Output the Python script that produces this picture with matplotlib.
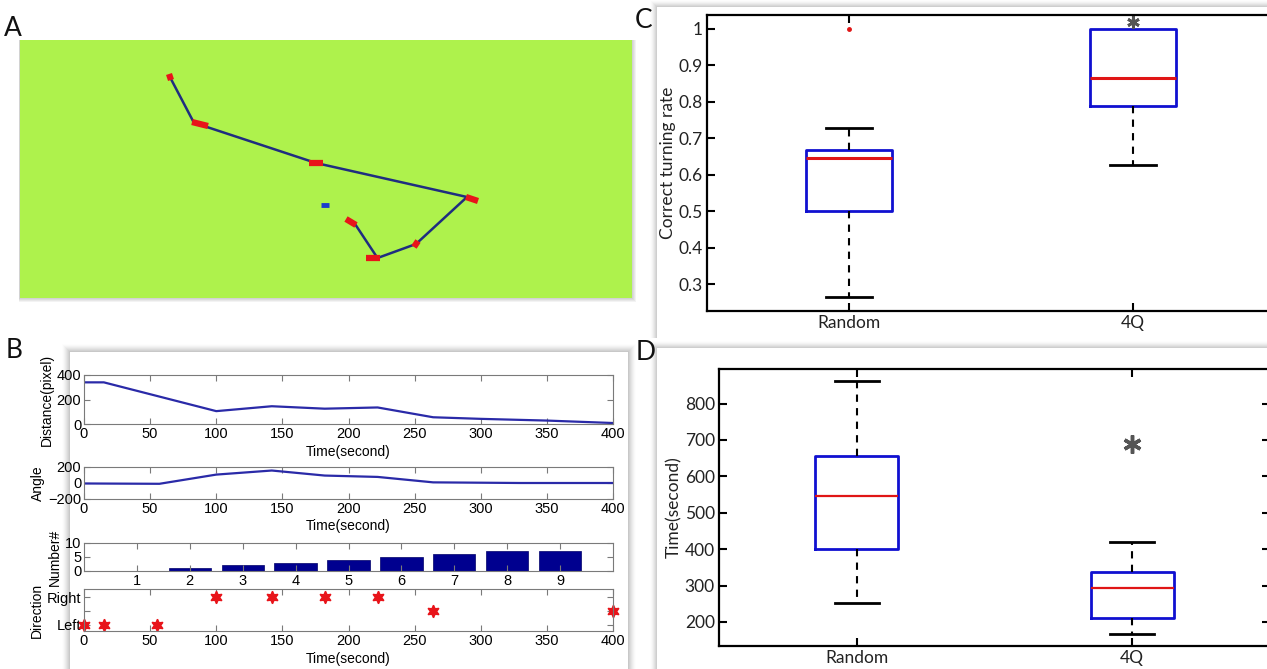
import numpy as np
import matplotlib
matplotlib.use("Agg")
import matplotlib.pyplot as plt
from matplotlib.patches import Rectangle
from matplotlib.markers import MarkerStyle
from matplotlib.transforms import Affine2D

# ---------------- data ----------------
# Panel A: trajectory in arena (pixel) coordinates
path_x = [150.6, 173.9, 296.0, 447.0, 396.0, 357.5, 335.0]
path_y = [38.3, 82.7, 123.0, 157.0, 204.0, 218.0, 184.0]
head_x = [150.0, 180.0, 296.0, 452.0, 396.0, 353.0, 331.0]
head_y = [37.0, 84.0, 123.0, 159.0, 204.0, 218.0, 182.0]
head_angle = [-70, -15, 0, -20, 60, 0, -35]
head_len = [6, 15, 12, 12, 6, 12, 10]
target_x = [305.0]
target_y = [165.0]

# Panel B
dist_t = [0, 15, 100, 142, 182, 222, 264, 300, 350, 400]
dist_v = [340, 340, 105, 145, 125, 135, 55, 42, 28, 8]
ang_t = [0, 57, 100, 142, 182, 222, 264, 330, 400]
ang_v = [-6, -10, 105, 156, 93, 76, 8, 0, 0]
num_idx = [1, 2, 3, 4, 5, 6, 7, 8, 9]
num_v = [0, 1, 2, 3, 4, 5, 6, 7, 7]
dir_t = [0, 15, 55, 100, 142, 182, 222, 264, 400]
dir_v = [-1, -1, -1, 1, 1, 1, 1, 0, 0]

# Panel C: correct turning rate
groups = ["Random", "4Q"]
c_whislo = [0.264, 0.626]
c_q1 = [0.500, 0.789]
c_med = [0.646, 0.866]
c_q3 = [0.667, 1.000]
c_whishi = [0.728, 1.000]
c_fliers = [[1.0], [1.02]]

# Panel D: time
d_whislo = [251, 167]
d_q1 = [400, 211]
d_med = [545, 294]
d_q3 = [656, 337]
d_whishi = [861, 420]
d_fliers = [[], [689]]

# ---------------- figure ----------------
W, H = 1267, 669
fig = plt.figure(figsize=(W / 100, H / 100), dpi=100)
fig.patch.set_facecolor("white")


def px(l, t, r, b):
    return [l / W, 1 - b / H, (r - l) / W, (b - t) / H]


def card(l, t, r, b, shadow=6):
    for i in range(shadow, 0, -1):
        a = 0.11 * (shadow - i + 1) / shadow
        fig.patches.append(Rectangle(((l - i) / W, 1 - (b) / H), (r - l + 2 * i) / W,
                                     (b - t + i) / H, transform=fig.transFigure,
                                     facecolor=(0.5, 0.5, 0.5, a), edgecolor="none", zorder=-5))
    fig.patches.append(Rectangle((l / W, 1 - b / H), (r - l) / W, (b - t) / H,
                                 transform=fig.transFigure, facecolor="white",
                                 edgecolor="none", zorder=-4))


# cards
card(70, 352, 628, 672, shadow=8)
card(657, 7, 1275, 338, shadow=7)
card(657, 348, 1275, 672, shadow=7)

# --------- Panel A ----------
for i in range(4, 0, -1):
    fig.patches.append(Rectangle(((20 - 1) / W, 1 - (298 + i) / H), (612 + 1 + i) / W,
                                 (258 + i) / H, transform=fig.transFigure,
                                 facecolor=(0.4, 0.4, 0.4, 0.08), edgecolor="none", zorder=-5))
axA = fig.add_axes(px(20, 40, 632, 298))
axA.set_facecolor("#aef24c")
axA.set_xlim(0, 612)
axA.set_ylim(258, 0)
axA.set_xticks([])
axA.set_yticks([])
for s in axA.spines.values():
    s.set_visible(False)
axA.plot(path_x, path_y, color="#1f2d80", lw=1.8, zorder=2)
for x, y, a, L in zip(head_x, head_y, head_angle, head_len):
    m = MarkerStyle("_", transform=Affine2D().rotate_deg(a))
    axA.plot([x], [y], marker=m, markersize=L * 0.8, mew=4.5, color="#e8141a", zorder=3)
axA.plot(target_x, target_y, marker="_", markersize=6, mew=3.5, color="#1a3ccc", zorder=3)

# --------- Panel B ----------
bfont = "Liberation Sans"
gray = "#7a7a7a"


def style_b(ax):
    for s in ax.spines.values():
        s.set_color(gray)
        s.set_linewidth(0.8)
    ax.tick_params(direction="in", length=4, width=0.8, color=gray, top=True, right=True,
                   labelsize=10.5, pad=2)
    for lab in ax.get_xticklabels() + ax.get_yticklabels():
        lab.set_fontfamily(bfont)


line_c = "#2a2aa8"
ax1 = fig.add_axes(px(84, 375, 613, 424))
ax1.plot(dist_t, dist_v, color=line_c, lw=1.6)
ax1.set_xlim(0, 400)
ax1.set_ylim(0, 400)
ax1.set_xticks(np.arange(0, 401, 50))
ax1.set_yticks([0, 200, 400])
style_b(ax1)
ax1.set_xlabel("Time(second)", fontsize=10, fontfamily=bfont, labelpad=3)
ax1.set_ylabel("Distance(pixel)", fontsize=10, fontfamily=bfont, labelpad=2)

ax2 = fig.add_axes(px(84, 467, 613, 499))
ax2.plot(ang_t, ang_v, color=line_c, lw=1.6)
ax2.set_xlim(0, 400)
ax2.set_ylim(-200, 200)
ax2.set_xticks(np.arange(0, 401, 50))
ax2.set_yticks([-200, 0, 200])
style_b(ax2)
ax2.set_xlabel("Time(second)", fontsize=10, fontfamily=bfont, labelpad=2)
ax2.set_ylabel("Angle", fontsize=10, fontfamily=bfont, labelpad=2)

ax3 = fig.add_axes(px(84, 543, 613, 571))
ax3.bar(num_idx, num_v, width=0.8, color="#00008f", edgecolor="#00006a", lw=0.5)
ax3.set_xlim(0, 10)
ax3.set_ylim(0, 10)
ax3.set_xticks(num_idx)
ax3.set_yticks([0, 5, 10])
style_b(ax3)
ax3.set_ylabel("Number#", fontsize=10, fontfamily=bfont, labelpad=2)

ax4 = fig.add_axes(px(84, 589, 613, 631))
ax4.plot(dir_t, dir_v, linestyle="none", marker=(6, 1, 0), markersize=9, color="#e8141a",
         markeredgecolor="#e8141a", mew=1, clip_on=False)
ax4.set_xlim(0, 400)
ax4.set_ylim(-1.45, 1.6)
ax4.set_xticks(np.arange(0, 401, 50))
ax4.set_yticks([-1, 0, 1])
ax4.set_yticklabels(["Left", "", "Right"])
style_b(ax4)
ax4.set_xlabel("Time(second)", fontsize=10, fontfamily=bfont, labelpad=3)
ax4.set_ylabel("Direction", fontsize=10, fontfamily=bfont, labelpad=2)

# --------- Panels C & D ----------
cfont = "Lato"


def boxpanel(ax, whislo, q1, med, q3, whishi, fliers, flier_styles, med_lw):
    stats = []
    for i in range(len(groups)):
        stats.append(dict(label=groups[i], whislo=whislo[i], q1=q1[i], med=med[i],
                          q3=q3[i], whishi=whishi[i], fliers=[]))
    pos = np.arange(1, len(groups) + 1)
    res = ax.bxp(stats, positions=pos, widths=0.3, showfliers=False,
                 boxprops=dict(color="#1010d0", lw=2),
                 medianprops=dict(color="#e01515", lw=med_lw),
                 whiskerprops=dict(color="black", lw=1.5, linestyle=(0, (3.5, 3))),
                 capprops=dict(color="black", lw=2), capwidths=0.16)
    for i in range(len(groups)):
        if whishi[i] <= q3[i]:
            res["caps"][2 * i + 1].set_visible(False)
            res["whiskers"][2 * i + 1].set_visible(False)
        if whislo[i] >= q1[i]:
            res["caps"][2 * i].set_visible(False)
            res["whiskers"][2 * i].set_visible(False)
    for i, fl in enumerate(fliers):
        if len(fl):
            ax.plot([pos[i]] * len(fl), fl, linestyle="none", clip_on=False, **flier_styles[i])
    ax.set_xlim(0.5, 2.5)
    for s in ax.spines.values():
        s.set_linewidth(1.6)
        s.set_color("black")
    ax.tick_params(direction="in", length=6, width=1.5, top=True, right=True,
                   labelsize=12.5, pad=3)
    ax.set_xticks(pos)
    ax.set_xticklabels(groups)
    for lab in ax.get_xticklabels() + ax.get_yticklabels():
        lab.set_fontfamily(cfont)
        lab.set_color("#222222")


axC = fig.add_axes(px(707, 15, 1275, 311))
boxpanel(axC, c_whislo, c_q1, c_med, c_q3, c_whishi, c_fliers,
         [dict(marker="o", markersize=2.5, color="#e01515"),
          dict(marker=(6, 2, 0), markersize=9, mew=2, color="#555555")], 2.2)
axC.set_ylim(0.227, 1.038)
axC.set_yticks([0.3, 0.4, 0.5, 0.6, 0.7, 0.8, 0.9, 1.0])
axC.set_yticklabels(["0.3", "0.4", "0.5", "0.6", "0.7", "0.8", "0.9", "1"], fontfamily=cfont)
axC.set_ylabel("Correct turning rate", fontsize=12.5, fontfamily=cfont, color="#222222",
               labelpad=2)

axD = fig.add_axes(px(719, 369, 1270, 646))
boxpanel(axD, d_whislo, d_q1, d_med, d_q3, d_whishi, d_fliers,
         [dict(marker=(6, 2, 0), markersize=12, mew=2.5, color="#555555"),
          dict(marker=(6, 2, 0), markersize=13, mew=2.5, color="#555555")], 1.6)
axD.set_ylim(134, 895)
axD.set_yticks([200, 300, 400, 500, 600, 700, 800])
axD.set_yticklabels(["200", "300", "400", "500", "600", "700", "800"], fontfamily=cfont)
axD.set_ylabel("Time(second)", fontsize=12.5, fontfamily=cfont, color="#222222", labelpad=2)

# panel letters
for lbl, x, y in [("A", 13, 28), ("B", 14, 350), ("C", 644, 20), ("D", 646, 352)]:
    fig.text(x / W, 1 - y / H, lbl, fontsize=19, fontfamily=cfont, ha="center", va="center",
             color="#111111")

fig.savefig("out.png", dpi=100, facecolor="white")
